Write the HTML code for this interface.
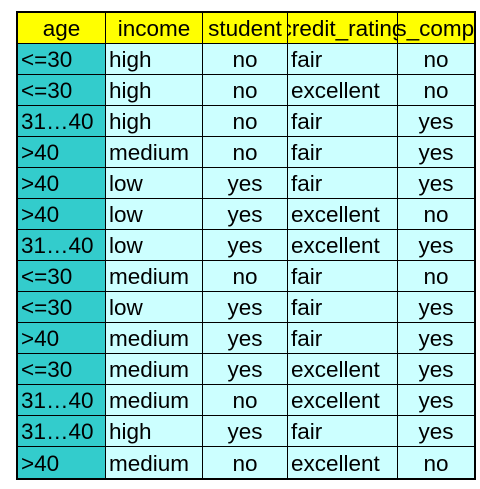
<!DOCTYPE html>
<html><head><meta charset="utf-8"><style>
body{margin:0;background:#fff;width:480px;height:489px;position:relative;overflow:hidden;font-family:"Liberation Sans",Arial,sans-serif}
#tbl{position:absolute;left:16px;top:11px;width:460px;height:469px;border:2px solid #000;box-sizing:border-box;background:#ccffff;overflow:hidden}
.c{position:absolute;box-sizing:border-box;border-right:1px solid #000;border-bottom:1px solid #000;display:flex;align-items:center;overflow:hidden;white-space:nowrap;font-size:22.5px;color:#000;padding-top:2px}
.h{background:#ffff00;justify-content:center}
.a{background:#33cccc}
.l{justify-content:flex-start;padding-left:3px}
.m{justify-content:center}
</style></head><body>
<div id="tbl"></div>
<script>
const headers=["age","income","student","credit_rating","buys_computer"];
const ages=["<=30","<=30","31…40",">40",">40",">40","31…40","<=30","<=30",">40","<=30","31…40","31…40",">40"];
const incomes=["high","high","high","medium","low","low","low","medium","low","medium","medium","medium","high","medium"];
const students=["no","no","no","no","yes","yes","yes","no","yes","yes","yes","no","yes","no"];
const credits=["fair","excellent","fair","fair","fair","excellent","excellent","fair","fair","fair","excellent","excellent","fair","excellent"];
const buys=["no","no","yes","yes","yes","no","yes","no","yes","yes","yes","yes","yes","no"];
const t=document.getElementById('tbl');
const xs=[0,88,185,270,380,456];
const hh=31, rh=31;
function cell(x0,x1,y,h,txt,cls,name,last){
  const d=document.createElement('div');
  d.className='c '+cls;
  d.style.left=x0+'px';d.style.width=(x1-x0)+'px';d.style.top=y+'px';d.style.height=h+'px';
  if(x1>=456)d.style.borderRight='none';
  if(last)d.style.borderBottom='none';
  d.textContent=txt;
  
  
  t.appendChild(d);
}
headers.forEach((h,i)=>cell(xs[i],xs[i+1],0,hh,h,'h','header-'+h.replace('_','-'),false));
const cols=[[ages,'a l','age'],[incomes,'l','income'],[students,'m','student'],[credits,'l','credit-rating'],[buys,'m','buys-computer']];
for(let r=0;r<ages.length;r++){
  const y=hh+r*rh;
  cols.forEach((c,i)=>cell(xs[i],xs[i+1],y,rh,c[0][r],c[1],c[2]+'-cell',r===ages.length-1));
}
</script>
</body></html>
